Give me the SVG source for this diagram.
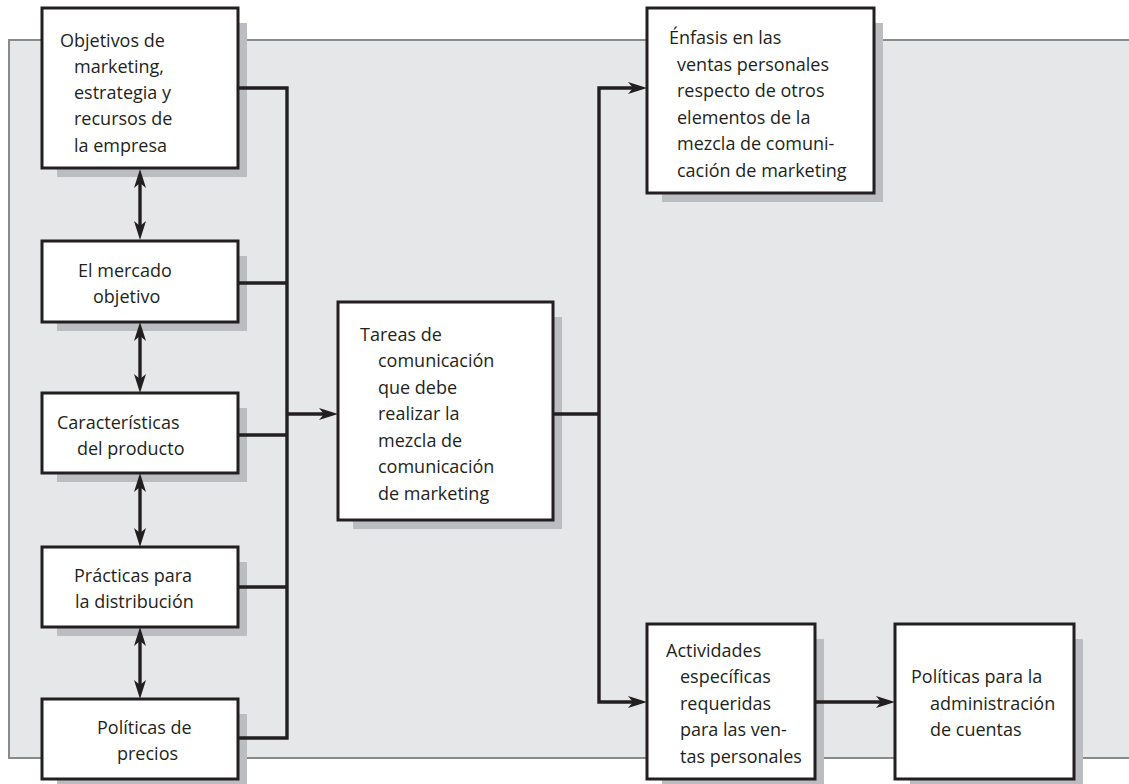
<svg xmlns="http://www.w3.org/2000/svg" width="1129" height="784" viewBox="0 0 1129 784">
<defs>
<style>
.panel{fill:#e6e7e8;stroke:#8a8a8a;stroke-width:2}
.shadow{fill:#bcbdc0}
.box{fill:#ffffff;stroke:#231f20;stroke-width:3}
.con{fill:none;stroke:#231f20;stroke-width:3.4;stroke-linejoin:miter}
text{font-family:"Open Sans","Noto Sans","Liberation Sans",sans-serif;font-size:18px;fill:#231f20}
</style>
<marker id="ah" viewBox="0 0 19 12" refX="12" refY="6" markerWidth="19" markerHeight="12" markerUnits="userSpaceOnUse" orient="auto-start-reverse">
<path d="M0,0 L19,6 L0,12 L5,6 z" fill="#231f20"/>
</marker>
</defs>
<rect class="panel" x="9" y="40" width="1130" height="718"/>

<g id="n1">
<rect class="shadow" x="57" y="23" width="190" height="154"/>
<rect class="box" x="42" y="8" width="196" height="160"/>
<text x="60" y="47">Objetivos de</text>
<text x="74" y="73">marketing,</text>
<text x="74" y="99">estrategia y</text>
<text x="74" y="125">recursos de</text>
<text x="74" y="152">la empresa</text>
</g>
<g id="n2">
<rect class="shadow" x="57" y="256" width="190" height="75"/>
<rect class="box" x="42" y="241" width="196" height="81"/>
<text x="78" y="277">El mercado</text>
<text x="93" y="303">objetivo</text>
</g>
<g id="n3">
<rect class="shadow" x="57" y="408" width="190" height="74"/>
<rect class="box" x="42" y="393" width="196" height="80"/>
<text x="57" y="429">Características</text>
<text x="77" y="455">del producto</text>
</g>
<g id="n4">
<rect class="shadow" x="57" y="562" width="190" height="74"/>
<rect class="box" x="42" y="547" width="196" height="80"/>
<text x="74" y="582">Prácticas para</text>
<text x="75" y="608">la distribución</text>
</g>
<g id="n5">
<rect class="shadow" x="57" y="714" width="190" height="74"/>
<rect class="box" x="42" y="699" width="196" height="80"/>
<text x="97" y="734">Políticas de</text>
<text x="117" y="760">precios</text>
</g>
<g id="n6">
<rect class="shadow" x="353" y="317" width="209" height="212"/>
<rect class="box" x="338" y="302" width="215" height="218"/>
<text x="360" y="341">Tareas de</text>
<text x="378" y="367">comunicación</text>
<text x="378" y="394">que debe</text>
<text x="378" y="420">realizar la</text>
<text x="378" y="447">mezcla de</text>
<text x="378" y="473">comunicación</text>
<text x="378" y="500">de marketing</text>
</g>
<g id="n7">
<rect class="shadow" x="662" y="23" width="221" height="179"/>
<rect class="box" x="647" y="8" width="227" height="185"/>
<text x="669" y="44">Énfasis en las</text>
<text x="677" y="71">ventas personales</text>
<text x="677" y="97">respecto de otros</text>
<text x="677" y="124">elementos de la</text>
<text x="677" y="150">mezcla de comuni-</text>
<text x="677" y="177">cación de marketing</text>
</g>
<g id="n8">
<rect class="shadow" x="662" y="639" width="162" height="149"/>
<rect class="box" x="647" y="624" width="168" height="155"/>
<text x="666" y="657">Actividades</text>
<text x="680" y="683">específicas</text>
<text x="680" y="710">requeridas</text>
<text x="680" y="736">para las ven-</text>
<text x="680" y="763">tas personales</text>
</g>
<g id="n9">
<rect class="shadow" x="910" y="639" width="173" height="149"/>
<rect class="box" x="895" y="624" width="179" height="155"/>
<text x="911" y="683">Políticas para la</text>
<text x="930" y="710">administración</text>
<text x="930" y="736">de cuentas</text>
</g>

<g id="connectors">
<path class="con" d="M238,88 H287 V738 H238"/>
<path class="con" d="M238,283 H287"/>
<path class="con" d="M238,435 H287"/>
<path class="con" d="M238,587 H287"/>
<path class="con" d="M287,414 H331" marker-end="url(#ah)"/>
<path class="con" d="M553,414 H599"/>
<path class="con" d="M640,88 H599 V702 H640" marker-start="url(#ah)" marker-end="url(#ah)"/>
<path class="con" d="M815,702 H888" marker-end="url(#ah)"/>
<path class="con" d="M140,176 V233" marker-start="url(#ah)" marker-end="url(#ah)"/>
<path class="con" d="M140,329 V386" marker-start="url(#ah)" marker-end="url(#ah)"/>
<path class="con" d="M140,480 V540" marker-start="url(#ah)" marker-end="url(#ah)"/>
<path class="con" d="M140,634 V692" marker-start="url(#ah)" marker-end="url(#ah)"/>
</g>
</svg>
